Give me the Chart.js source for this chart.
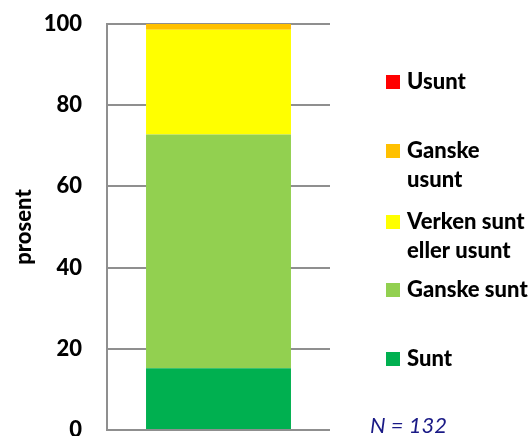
<!DOCTYPE html>
<html>
<head>
<meta charset="utf-8">
<script src="https://cdn.jsdelivr.net/npm/chart.js@4.4.1/dist/chart.umd.min.js"></script>
<style>
    html, body { margin: 0; padding: 0; background: #fff; }
</style>
</head>
<body>
<canvas id="healthChart" width="531" height="436"></canvas>
<script>
// ==========================================
// Data (share of respondents, N = 132)
// ==========================================
const categories = [''];
const seriesNames = ['Sunt', 'Ganske sunt', 'Verken sunt eller usunt', 'Ganske usunt', 'Usunt'];
const sunt = [15.2];
const ganskeSunt = [57.6];
const verken = [25.8];
const ganskeUsunt = [1.5];
const usunt = [0];
const yTicks = [0, 20, 40, 60, 80, 100];
const sampleText = 'N = 132';

const seriesColors = ['#00B050', '#92D050', '#FFFF00', '#FFC000', '#FF0000'];
const gridColor = '#8f8f8f';
const FONT = 'Lato, "Open Sans", sans-serif';
const WEIGHT = '900';

// Custom legend drawn on the right, top entry = last dataset
const legendLayout = {
    boxX: 386,
    boxSize: 14,
    textX: 407,
    maxWidth: 124,
    lineHeight: 29,
    rowsY: [82, 151, 222, 290, 359]
};

function wrapText(ctx, text, maxWidth) {
    const words = text.split(' ');
    const lines = [];
    let line = '';
    words.forEach(w => {
        const test = line ? line + ' ' + w : w;
        if (line && ctx.measureText(test).width > maxWidth) {
            lines.push(line);
            line = w;
        } else {
            line = test;
        }
    });
    if (line) lines.push(line);
    return lines;
}

const sideLegendPlugin = {
    id: 'sideLegend',
    afterDraw(chart) {
        const ctx = chart.ctx;
        const sets = chart.data.datasets.slice().reverse();
        ctx.save();
        ctx.font = `${WEIGHT} 22px ${FONT}`;
        ctx.textBaseline = 'middle';
        ctx.textAlign = 'left';
        sets.forEach((ds, i) => {
            const y = legendLayout.rowsY[i];
            ctx.fillStyle = ds.backgroundColor;
            ctx.fillRect(legendLayout.boxX, y - legendLayout.boxSize / 2, legendLayout.boxSize, legendLayout.boxSize);
            ctx.fillStyle = '#000';
            wrapText(ctx, ds.label, legendLayout.maxWidth).forEach((ln, j) => {
                ctx.fillText(ln, legendLayout.textX, y + j * legendLayout.lineHeight);
            });
        });

        // sample size note
        ctx.font = `italic 22px ${FONT}`;
        ctx.fillStyle = '#1a1a86';
        ctx.fillText(sampleText, 370, 426);
        ctx.restore();
    }
};

const datasetValues = [sunt, ganskeSunt, verken, ganskeUsunt, usunt];

new Chart(document.getElementById('healthChart'), {
    type: 'bar',
    data: {
        labels: categories,
        datasets: seriesNames.map((name, i) => ({
            label: name,
            data: datasetValues[i],
            backgroundColor: seriesColors[i],
            borderWidth: 0,
            barPercentage: 0.65,
            categoryPercentage: 1
        }))
    },
    options: {
        responsive: false,
        animation: false,
        layout: {
            padding: { left: 0, right: 201, top: 24, bottom: 6 }
        },
        plugins: {
            legend: { display: false },
            tooltip: { enabled: false }
        },
        scales: {
            x: {
                stacked: true,
                display: false
            },
            y: {
                stacked: true,
                min: 0,
                max: 100,
                afterBuildTicks(scale) {
                    scale.ticks = yTicks.map(v => ({ value: v }));
                },
                afterFit(scale) {
                    // fixed axis column, and no extra room for the tick labels above/below
                    scale.width = 107;
                    scale.paddingTop = 0;
                    scale.paddingBottom = 0;
                },
                ticks: {
                    padding: 25,
                    color: '#000',
                    font: { family: FONT, weight: WEIGHT, size: 22 }
                },
                grid: {
                    color: gridColor,
                    lineWidth: 2,
                    drawTicks: false
                },
                border: {
                    color: gridColor,
                    width: 2
                },
                title: {
                    display: true,
                    text: 'prosent',
                    color: '#000',
                    font: { family: FONT, weight: WEIGHT, size: 22 },
                    padding: { top: 11, bottom: 0 }
                }
            }
        }
    },
    plugins: [sideLegendPlugin]
});
</script>
</body>
</html>
